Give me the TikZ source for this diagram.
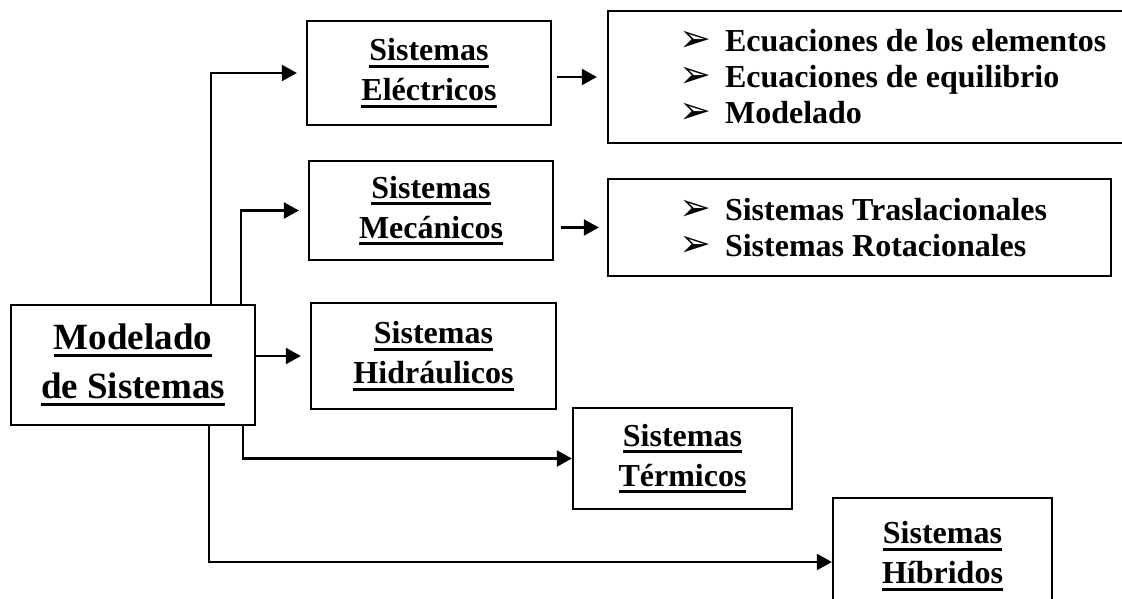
\documentclass[tikz,border=0pt]{standalone}
\usepackage{fontspec}
\setmainfont{Liberation Serif}
\newfontfamily\dejavu{DejaVu Sans}
\usetikzlibrary{arrows.meta, calc, positioning}

\newcommand{\ulbf}[1]{\sbox0{#1}\rlap{\rule[-0.22em]{\wd0}{0.095em}}\usebox0}
\newcommand{\bul}{\makebox[46pt][l]{\dejavu\fontsize{38}{38}\selectfont ➢}}

\begin{document}
\begin{tikzpicture}[x=1pt,y=-1pt,
    sysbox/.style={draw,line width=2.3pt,align=center,inner sep=0pt,font=\fontsize{32}{40}\selectfont\bfseries},
    listbox/.style={draw,line width=2.3pt,inner sep=0pt},
    items/.style={anchor=west,align=left,inner sep=0pt,font=\fontsize{32}{36}\selectfont\bfseries},
    arr/.style={line width=2.3pt,-{Triangle[length=15pt,width=16pt]}}]
    \useasboundingbox (0,0) rectangle (1122,599);

    %
    \node[sysbox,minimum width=244pt,minimum height=120pt,font=\fontsize{37}{49}\selectfont\bfseries] (modelado) at (133,365) {\ulbf{Modelado}\\\ulbf{de Sistemas}};

    %
    \node[sysbox,minimum width=244pt,minimum height=104pt] (electricos) at (429,73) {\ulbf{Sistemas}\\\ulbf{Eléctricos}};
    \node[sysbox,minimum width=244pt,minimum height=99pt] (mecanicos) at (431,210.5) {\ulbf{Sistemas}\\\ulbf{Mecánicos}};
    \node[sysbox,minimum width=245pt,minimum height=106pt] (hidraulicos) at (433.5,356) {\ulbf{Sistemas}\\\ulbf{Hidráulicos}};
    \node[sysbox,minimum width=219pt,minimum height=101pt] (termicos) at (682.5,458.5) {\ulbf{Sistemas}\\\ulbf{Térmicos}};
    \node[sysbox,minimum width=219pt,minimum height=116pt] (hibridos) at (942.5,556) {\ulbf{Sistemas}\\\ulbf{Híbridos}};

    %
    \node[listbox,minimum width=527pt,minimum height=132pt] (elemlist) at (871.5,77) {};
    \node[items] (elemtxt) at ([xshift=72pt]elemlist.west) {\bul Ecuaciones de los elementos\\\bul Ecuaciones de equilibrio\\\bul Modelado};
    \node[listbox,minimum width=503pt,minimum height=97pt] (meclist) at (859.5,227.5) {};
    \node[items] (mectxt) at ([xshift=72pt]meclist.west) {\bul Sistemas Traslacionales\\\bul Sistemas Rotacionales};

    %
    \draw[arr,shorten >=9pt] ([xshift=78pt]modelado.north) |- (electricos.west);
    \draw[arr,shorten >=9pt] ([xshift=108pt]modelado.north) |- (mecanicos.west);
    \draw[arr,shorten >=9pt] (modelado.east |- hidraulicos.west) -- (hidraulicos.west);
    \draw[arr] ([xshift=110pt]modelado.south) |- (termicos.west);
    \draw[arr] ([xshift=76pt]modelado.south) |- ([yshift=-6pt]hibridos.west);
    \draw[arr,shorten <=5pt,shorten >=10pt] (electricos.east |- elemlist.west) -- (elemlist.west);
    \draw[arr,shorten <=7pt,shorten >=8pt] (mecanicos.east |- meclist.west) -- (meclist.west);
\end{tikzpicture}
\end{document}
